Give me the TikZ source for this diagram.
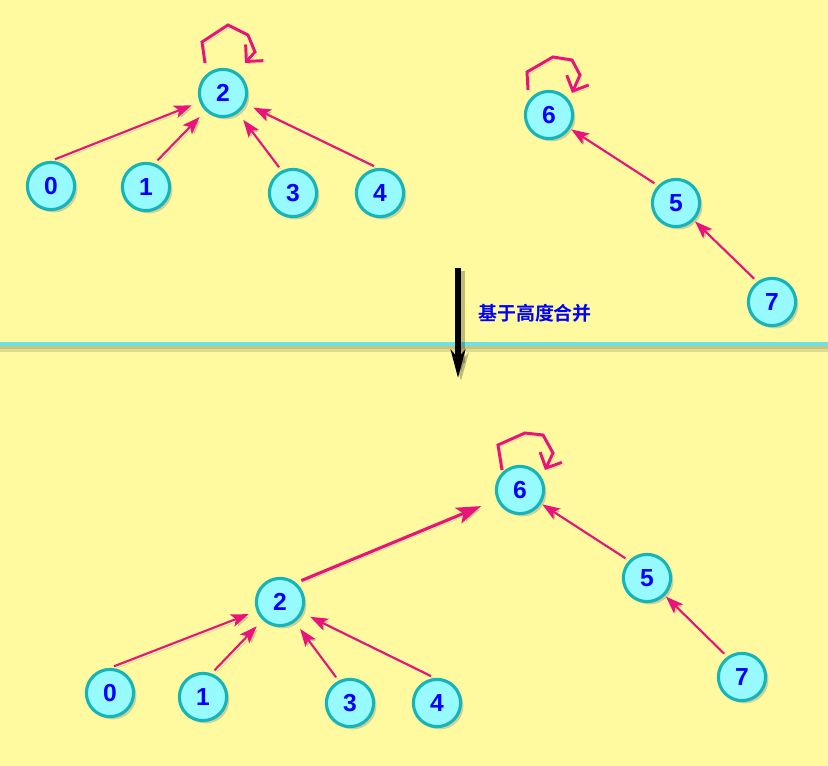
\documentclass[tikz,border=0pt]{standalone}
\usepackage{fontspec}
\setsansfont{Liberation Sans}
\newfontfamily\cjk{Noto Sans CJK SC Bold}
\usepackage{tikz}
\usetikzlibrary{positioning,arrows.meta,calc,shadows}

\definecolor{bgyellow}{RGB}{255,250,160}
\definecolor{edgepink}{RGB}{232,20,122}
\definecolor{nodefill}{RGB}{150,250,255}
\definecolor{noderim}{RGB}{20,180,185}
\definecolor{sepcyan}{RGB}{110,225,230}

\tikzset{
  setnode/.style={circle,minimum size=1.18cm,inner sep=0pt,fill=nodefill,draw=noderim,
    line width=2.2pt,text=blue,font=\sffamily\bfseries\fontsize{17.5}{19}\selectfont,
    drop shadow={shadow xshift=2pt,shadow yshift=-2pt,opacity=0.35}},
  edgeshade/.style={preaction={draw,black,opacity=0.15,transform canvas={shift={(1.5pt,-1.5pt)}}}},
  edge/.style={edgepink,line width=1.5pt,shorten <=3pt,edgeshade,
    -{Stealth[length=0.44cm,width=0.32cm,inset=0.1cm]}},
  bigedge/.style={edgepink,line width=2.2pt,shorten >=12pt,shorten <=4pt,edgeshade,
    -{Stealth[length=0.62cm,width=0.42cm,inset=0.14cm]}},
  selfloop/.style={edgepink,line width=2.1pt,line join=miter,edgeshade,
    -{Straight Barb[length=0.3cm,width=0.6cm,line width=2.1pt]}},
}

\begin{document}
\begin{tikzpicture}[x=0.025cm,y=-0.025cm]

  % Background
  \fill[bgyellow] (0,0) rectangle (828,766);
  \useasboundingbox (0,0) rectangle (828,766);

  % Separator
  \fill[black,opacity=0.12] (0,346) rectangle (828,352);
  \fill[black,opacity=0.10] (0,346) rectangle (828,349);
  \draw[sepcyan,line width=2.5pt] (0,344)--(828,344);

  % Before: two trees
  \node[setnode] (t2) at (223,93) {2};
  \node[setnode] (t0) at (51,186) {0};
  \node[setnode] (t1) at (146,187) {1};
  \node[setnode] (t3) at (293,193) {3};
  \node[setnode] (t4) at (380,193) {4};
  \node[setnode] (t6) at (549,115) {6};
  \node[setnode] (t5) at (676,203) {5};
  \node[setnode] (t7) at (772,302) {7};

  \draw[edge,shorten >=6pt] (t0.north) -- (t2);
  \draw[edge,shorten >=6pt] (t1.70) -- (t2);
  \draw[edge,shorten >=6pt] (t3.117) -- (t2);
  \draw[edge,shorten >=6pt] (t4.95) -- (t2);
  \draw[edge,shorten >=1pt] (t5.136) -- (t6);
  \draw[edge,shorten >=1pt] (t7.126) -- (t5);

  % Roots point to themselves
  \draw[selfloop] (t2) ++(-18,-30) -- ++(-3,-21) -- ++(26,-17) -- ++(20,10) -- ++(7,17) -- ++(-10,11);
  \draw[selfloop] (t6) ++(-21,-25) -- ++(-1,-18) -- ++(26,-15) -- ++(19,3) -- ++(8,15) -- ++(-8,18);

  % Merge by height
  \coordinate (arrtop) at (458,268);
  \coordinate (arrbot) at (458,378);
  \draw[black,opacity=0.25,line width=5pt,-{Stealth[length=0.7cm,width=0.38cm,inset=0.2cm]}]
    ($(arrtop)+(3,3)$) -- ($(arrbot)+(3,3)$);
  \draw[black,line width=4.5pt,-{Stealth[length=0.7cm,width=0.36cm,inset=0.2cm]}] (arrtop) -- (arrbot);
  \node[text=blue,font=\cjk\fontsize{13.5}{15}\selectfont] (lbl) at (535,313) {基于高度合并};

  % After: one tree
  \node[setnode] (b6) at (520,490) {6};
  \node[setnode] (b2) at (280,602) {2};
  \node[setnode] (b0) at (110,693) {0};
  \node[setnode] (b1) at (203,697) {1};
  \node[setnode] (b3) at (350,703) {3};
  \node[setnode] (b4) at (437,703) {4};
  \node[setnode] (b5) at (647,578) {5};
  \node[setnode] (b7) at (742,677) {7};

  \draw[edge,shorten >=6pt] (b0.north) -- (b2);
  \draw[edge,shorten >=6pt] (b1.70) -- (b2);
  \draw[edge,shorten >=6pt] (b3.117) -- (b2);
  \draw[edge,shorten >=6pt] (b4.95) -- (b2);
  \draw[edge,shorten >=1pt] (b5.136) -- (b6);
  \draw[edge,shorten >=1pt] (b7.126) -- (b5);
  \draw[bigedge] (b2.50) -- (b6);

  \draw[selfloop] (b6) ++(-18,-20) -- ++(-4,-25) -- ++(27,-12) -- ++(18,2) -- ++(10,18) -- ++(-8,17);

\end{tikzpicture}
\end{document}
